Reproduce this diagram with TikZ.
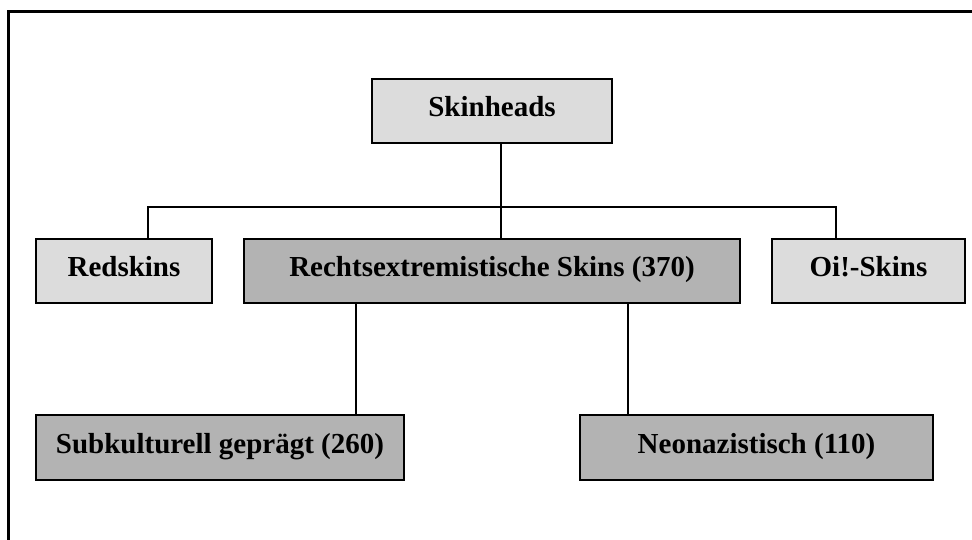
\documentclass[tikz,border=0pt]{standalone}
\usepackage{fontspec}
\setmainfont{Liberation Serif}
\begin{document}
\begin{tikzpicture}[x=1pt,y=-1pt,
  box/.style={draw=black,line width=1.4pt,inner sep=0pt,minimum height=64pt,
    text height=13pt,text depth=2pt,
    font=\fontsize{29}{34}\selectfont\bfseries},
  light/.style={box,fill=light},
  dark/.style={box,fill=dark},
  conn/.style={draw=black,line width=1.4pt}]
\definecolor{light}{HTML}{DCDCDC}
\definecolor{dark}{HTML}{B3B3B3}
\useasboundingbox (0,0) rectangle (972,540);
\begin{scope}
  \clip (0,0) rectangle (972,540);
  \draw[line width=3pt] (8.5,11.5) rectangle (990,560);
\end{scope}
\node[light,minimum width=240pt] (sk) at (492,111) {Skinheads};
\node[light,minimum width=176pt] (rd) at (124,271) {Redskins};
\node[dark,minimum width=496pt] (re) at (492,271) {Rechtsextremistische Skins (370)};
\node[light,minimum width=193pt] (oi) at (868.5,271) {Oi!-Skins};
\node[dark,minimum width=368pt,minimum height=65pt] (su) at (220,447.5) {Subkulturell geprägt (260)};
\node[dark,minimum width=353pt,minimum height=65pt] (ne) at (756.5,447.5) {Neonazistisch (110)};
\coordinate (jl) at (148,207);
\coordinate (jm) at (501,207);
\coordinate (jr) at (836,207);
\coordinate (cl) at (356,360);
\coordinate (cr) at (628,360);
\draw[conn] (sk.south -| jm) -- (re.north -| jm);
\draw[conn] (rd.north -| jl) -- (jl) -- (jr) -- (oi.north -| jr);
\draw[conn] (re.south -| cl) -- (su.north -| cl);
\draw[conn] (re.south -| cr) -- (ne.north -| cr);
\end{tikzpicture}
\end{document}
